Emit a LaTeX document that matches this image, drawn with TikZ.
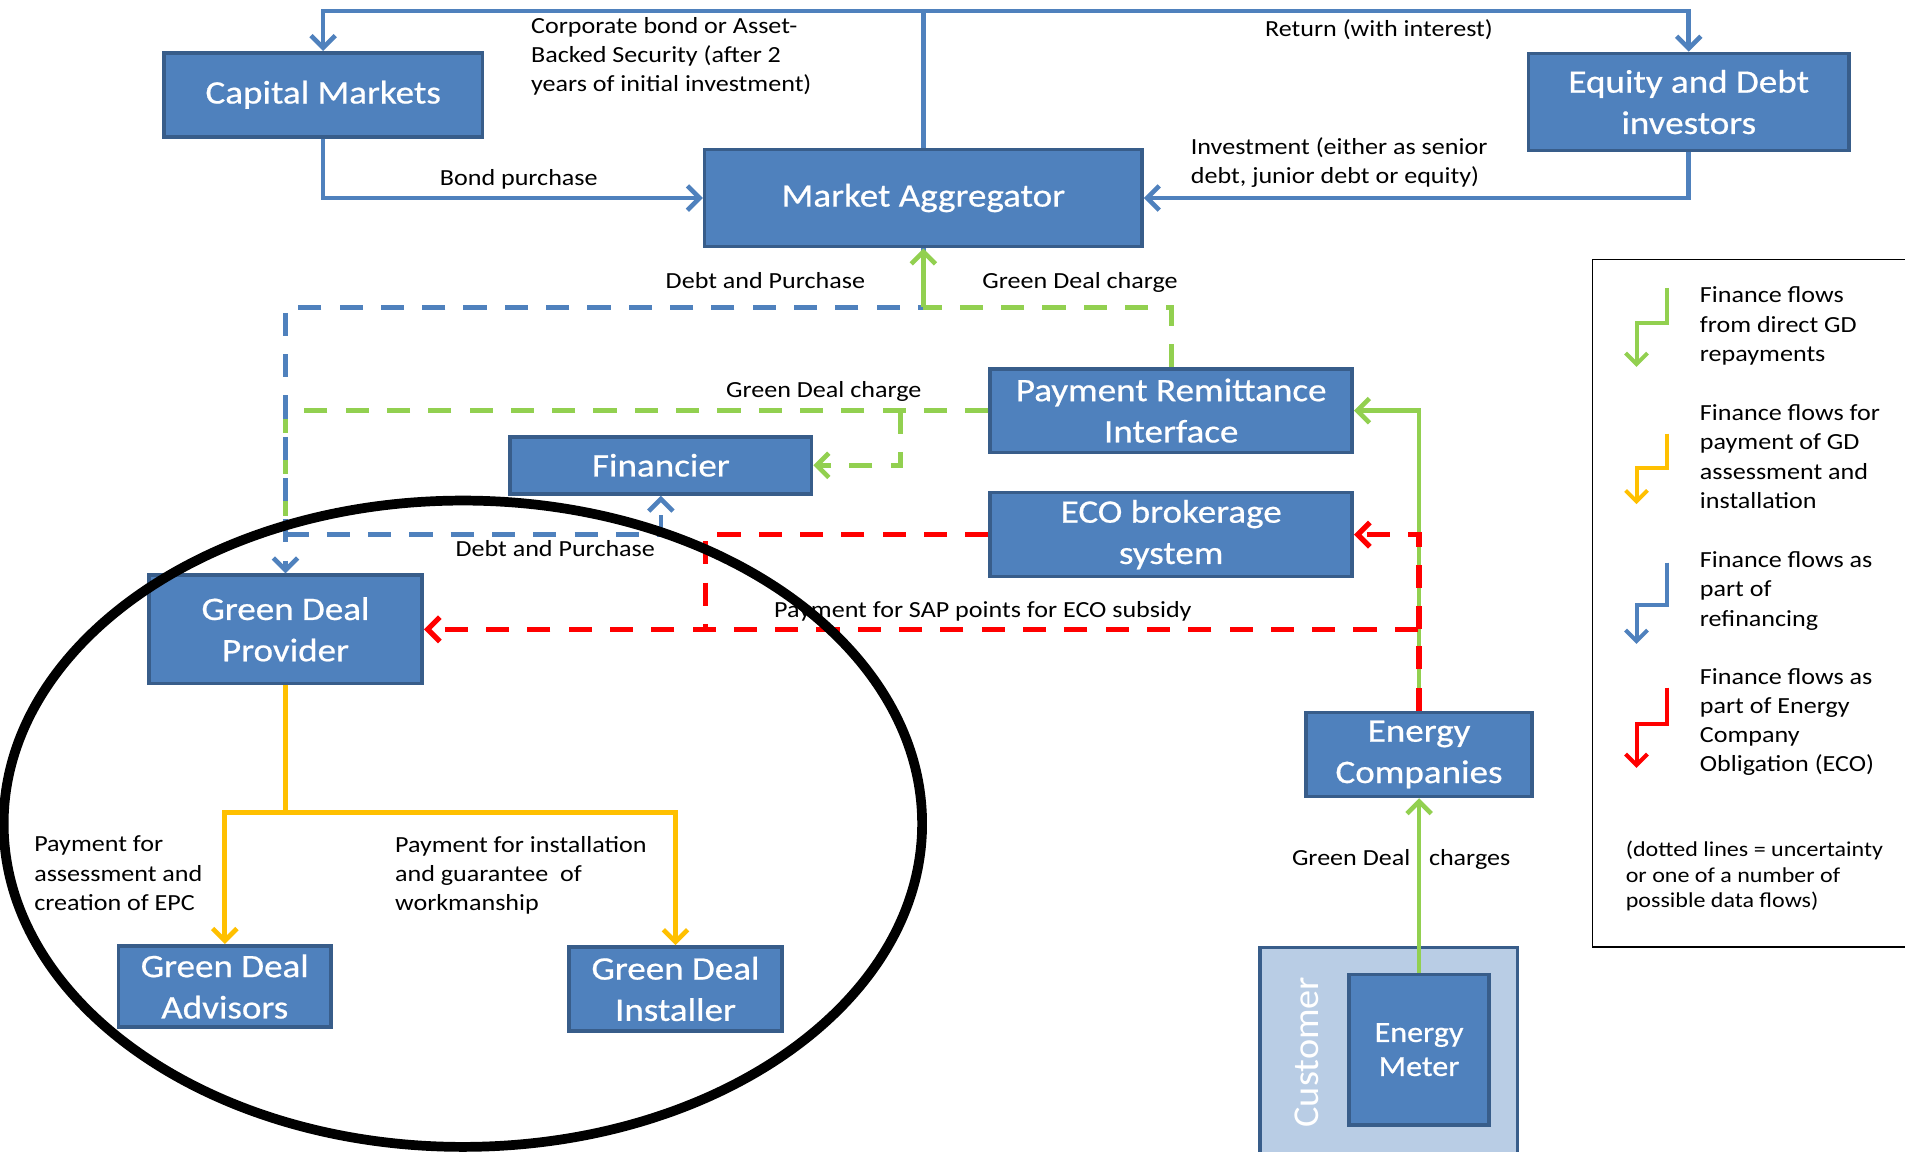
\documentclass[tikz,border=0pt]{standalone}
\usepackage{fontspec}
\setmainfont{Carlito}
\newfontfamily\lblfont{Carlito}[FakeStretch=1.13]
\newfontfamily\boxfont{Carlito}[FakeStretch=1.13,FakeBold=0.6]
\newfontfamily\meterfont{Carlito}[FakeStretch=1.1,FakeBold=0.6]
\newfontfamily\custfont{Carlito}[FakeStretch=1.05]
\usetikzlibrary{arrows.meta}
\definecolor{boxfill}{HTML}{4F81BD}
\definecolor{boxline}{HTML}{385D8A}
\definecolor{flowblue}{HTML}{4F81BD}
\definecolor{flowgreen}{HTML}{92D050}
\definecolor{floworange}{HTML}{FFC000}
\definecolor{flowred}{HTML}{FF0000}
\definecolor{custfill}{HTML}{B9CDE5}
\begin{document}
\begin{tikzpicture}[x=1pt,y=-1pt,
  box/.style={draw=boxline, fill=boxfill, line width=3pt, text=white,
    font=\boxfont\fontsize{27}{34}\selectfont, align=center, inner sep=0pt},
  lbl/.style={font=\lblfont\fontsize{19}{24}\selectfont, inner sep=0pt, align=left},
  arr/.style={-{Straight Barb[length=10pt,width=20pt]}},
  larr/.style={-{Straight Barb[length=9pt,width=18pt]}},
  dsh/.style={dash pattern=on 19pt off 15pt},
  bl/.style={draw=flowblue, line width=3.8pt},
  gr/.style={draw=flowgreen, line width=3.8pt},
  rd/.style={draw=flowred, line width=4.3pt},
  orl/.style={draw=floworange, line width=3.8pt},
  lgl/.style={line width=3.3pt}]
\useasboundingbox (0,0) rectangle (1568,948);
\clip (0,0) rectangle (1568,948);
\fill[white] (0,0) rectangle (1568,948);

% boxes
\node[box, minimum width=262pt, minimum height=69pt] (cm) at (266,78) {Capital Markets};
\node[box, minimum width=264pt, minimum height=80pt] (edi) at (1390,84) {Equity and Debt\\investors};
\node[box, minimum width=360pt, minimum height=80pt] (ma) at (760,163) {Market Aggregator};
\node[box, minimum width=298pt, minimum height=69pt] (pri) at (964,338) {Payment Remittance\\Interface};
\node[box, minimum width=248pt, minimum height=47pt] (fin) at (544,383) {Financier};
\node[box, minimum width=298pt, minimum height=69pt] (eco) at (964,440) {ECO brokerage\\system};
\node[box, minimum width=225pt, minimum height=89pt] (gdp) at (235,518) {Green Deal\\Provider};
\node[box, minimum width=186pt, minimum height=69pt] (ec) at (1168,621) {Energy\\Companies};
\node[box, minimum width=175pt, minimum height=67pt] (gda) at (185,812) {Green Deal\\Advisors};
\node[box, minimum width=175pt, minimum height=69pt] (gdi) at (556,814) {Green Deal\\Installer};
\node[draw=boxline, fill=custfill, line width=3pt, minimum width=212pt, minimum height=200pt, inner sep=0pt] (cust) at (1143,880) {};
\node[box, minimum width=115pt, minimum height=124pt, font=\meterfont\fontsize{24}{28}\selectfont] (em) at (1168,864) {Energy\\Meter};
\node[rotate=90, text=white, inner sep=0pt, font=\custfont\fontsize{30}{30}\selectfont] (custlbl) at (1076,866) {Customer};

% legend
\node[draw=black, line width=1.3pt, minimum width=290pt, minimum height=566pt, anchor=north west, inner sep=0pt] (leg) at (1310,213) {};
\node[lbl, anchor=north west] (lg1) at (1399,236) {Finance flows\\from direct GD\\repayments};
\node[lbl, anchor=north west] (lg2) at (1399,333) {Finance flows for\\payment of GD\\assessment and\\installation};
\node[lbl, anchor=north west] (lg3) at (1399,454) {Finance flows as\\part of\\refinancing};
\node[lbl, anchor=north west] (lg4) at (1399,550) {Finance flows as\\part of Energy\\Company\\Obligation (ECO)};
\node[lbl, anchor=north west, font=\lblfont\fontsize{17.5}{21}\selectfont] (lg5) at (1338,692) {(dotted lines = uncertainty\\or one of a number of\\possible data flows)};
\draw[gr, lgl, larr] (1372,237) -- (1372,266) -- (1347,266) -- (1347,302);
\draw[orl, lgl, larr] (1372,357) -- (1372,385) -- (1347,385) -- (1347,415);
\draw[bl, lgl, larr] (1372,463) -- (1372,498) -- (1347,498) -- (1347,530);
\draw[rd, lgl, larr] (1372,566) -- (1372,596) -- (1347,596) -- (1347,632);

% labels
\node[lbl, anchor=north west] (l1) at (437,14) {Corporate bond or Asset-\\Backed Security (after 2\\years of initial investment)};
\node[lbl, anchor=north] (l2) at (1135,16) {Return (with interest)};
\node[lbl, anchor=north] (l3) at (427,139) {Bond purchase};
\node[lbl, anchor=north west] (l4) at (980,113) {Investment (either as senior\\debt, junior debt or equity)};
\node[lbl, anchor=north] (l5) at (630,224) {Debt and Purchase};
\node[lbl, anchor=north] (l6) at (889,224) {Green Deal charge};
\node[lbl, anchor=north] (l7) at (678,314) {Green Deal charge};
\node[lbl, anchor=north] (l8) at (457,445) {Debt and Purchase};
\node[lbl, anchor=north] (l9) at (809,495) {Payment for SAP points for ECO subsidy};
\node[lbl, anchor=north west] (l10) at (28,688) {Payment for\\assessment and\\creation of EPC};
\node[lbl, anchor=north west] (l11) at (325,688) {Payment for installation\\and guarantee~ of\\workmanship};
\node[lbl, anchor=north east] (l12) at (1161,699) {Green Deal};
\node[lbl, anchor=north west] (l13) at (1176,699) {charges};

% top connectors
\coordinate (topmid) at (760,9);
\draw[bl, arr] (ma.north) -- (topmid) -| (cm.north);
\draw[bl, arr] (topmid) -| (edi.north);
\draw[bl, arr] (cm.south) |- (ma.west);
\draw[bl, arr] (edi.south) |- (ma.east);

% green dashed from PRI westwards
\coordinate (gd2) at (235,338);
\coordinate (gd3) at (235,432);
\coordinate (gd4) at (741,338);
\draw[gr, dsh] (pri.west) -- (gd2) -- (gd3);
\draw[gr, dsh, arr] (gd4) |- (fin.east);

% blue dashed refinancing
\coordinate (bd1) at (760,253);
\coordinate (bd2) at (235,440);
\draw[bl, dsh, arr] (ma.south) -- (bd1) -| (gdp.north);
\draw[bl, dsh, arr] (bd2) -| (fin.south);

% green dashed PRI to MA
\coordinate (gd1) at (964,253);
\draw[gr, dsh] (pri.north) -- (gd1) -- (bd1);
\draw[gr, arr] (bd1) -- (ma.south);

% energy companies flows
\draw[gr, arr] (ec.north) |- (pri.east);
\coordinate (rd1) at (1168,518);
\coordinate (rd2) at (581,518);
\draw[rd, dsh, arr] (ec.north) |- (gdp.east);
\draw[rd, dsh, arr] (rd1) |- (eco.east);
\draw[rd, dsh] (eco.west) -| (rd2);
\draw[gr, arr] (em.north) -- (ec.south);

% orange
\coordinate (o1) at (235,669);
\draw[orl] (gdp.south) -- (o1);
\draw[orl, arr] (o1) -| (gda.north);
\draw[orl, arr] (o1) -| (gdi.north);

% highlight ellipse
\draw[line width=8pt] (381,678) ellipse [x radius=378pt, y radius=266pt];
\end{tikzpicture}
\end{document}
